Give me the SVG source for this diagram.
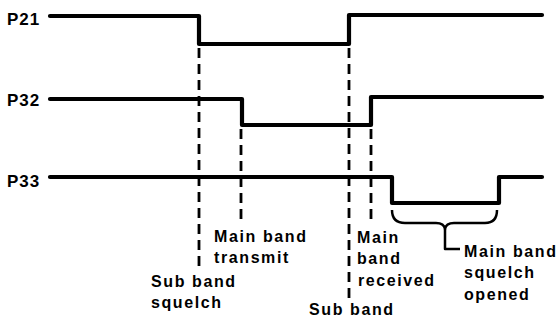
<svg xmlns="http://www.w3.org/2000/svg" width="560" height="321" viewBox="0 0 560 321">
<style>
.sig{fill:none;stroke:#000;stroke-width:4.2;stroke-linejoin:round;stroke-linecap:round}
.dash{fill:none;stroke:#000;stroke-width:2.8;stroke-dasharray:10 6}
.br{fill:none;stroke:#000;stroke-width:2.5;stroke-linejoin:round}
text{font-family:"Liberation Sans",Arial,sans-serif;font-weight:bold;font-size:16px;letter-spacing:1.6px;fill:#000}
.lbl{font-size:17px;letter-spacing:1px}
</style>
<rect width="560" height="321" fill="#fff"/>
<g id="P21">
<text class="lbl" x="7" y="25">P21</text>
<path class="sig" d="M50 16 H199 V44 H349 V15 H542"/>
</g>
<g id="P32">
<text class="lbl" x="7" y="106">P32</text>
<path class="sig" d="M50 99 H242 V125 H371 V97 H542"/>
</g>
<g id="P33">
<text class="lbl" x="7" y="187">P33</text>
<path class="sig" d="M50 177 H392 V203 H499 V177 H542"/>
</g>
<g id="connectors">
<line class="dash" x1="199" y1="48" x2="199" y2="266"/>
<line class="dash" x1="241" y1="129" x2="241" y2="219"/>
<line class="dash" x1="349" y1="48" x2="349" y2="298"/>
<line class="dash" x1="371" y1="129" x2="371" y2="223"/>
<path class="br" d="M392 210 Q392 223 405 223 H436 Q444 223 445 229 Q446 223 454 223 H485 Q497 223 497 210"/>
<path class="br" d="M445 229 V249 H460"/>
</g>
<g id="sub-band-squelch">
<text x="151" y="287">Sub band</text>
<text x="151" y="308">squelch</text>
</g>
<g id="main-band-transmit">
<text x="214" y="242">Main band</text>
<text x="214" y="263">transmit</text>
</g>
<g id="main-band-received">
<text x="357" y="243">Main</text>
<text x="357" y="264">band</text>
<text x="358" y="286">received</text>
</g>
<g id="sub-band">
<text x="309" y="315">Sub band</text>
</g>
<g id="main-band-squelch-opened">
<text x="464" y="257">Main band</text>
<text x="464" y="278">squelch</text>
<text x="464" y="300">opened</text>
</g>
</svg>
